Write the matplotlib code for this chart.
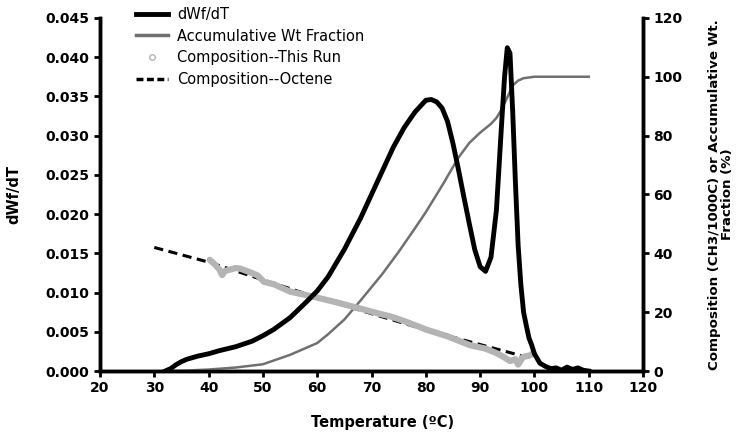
import matplotlib
matplotlib.use('Agg')
import matplotlib.pyplot as plt
from matplotlib.lines import Line2D

plt.rcParams['font.family'] = ['DejaVu Sans']

# dWf/dT curve
temp_dw = [32, 33, 34, 35, 36, 38, 40, 42, 45, 48, 50, 52, 55, 58, 60, 62, 65, 68, 70,
           72, 74, 76, 78, 80, 81, 82, 83, 84, 85, 86, 87, 88, 89, 90, 91, 92, 93, 94,
           94.5, 95, 95.5, 96, 96.5, 97, 97.5, 98, 98.5, 99, 99.5, 100, 101, 102, 103,
           104, 105, 106, 107, 108, 109, 110]
dwdt = [0, 0.0003, 0.0008, 0.0012, 0.0015, 0.0019, 0.0022, 0.0026, 0.0031, 0.0038,
        0.0045, 0.0053, 0.0068, 0.0088, 0.0102, 0.0120, 0.0155, 0.0195, 0.0225, 0.0255,
        0.0285, 0.0310, 0.0330, 0.0345, 0.0346, 0.0343, 0.0335, 0.0318, 0.0290, 0.0257,
        0.0222, 0.0188, 0.0155, 0.0133, 0.0127, 0.0145, 0.0205, 0.0320, 0.0375, 0.0412,
        0.0405, 0.0330, 0.0240, 0.0160, 0.0110, 0.0075, 0.0058, 0.0042, 0.0033, 0.0022,
        0.0010, 0.0006, 0.0003, 0.0004, 0.0001, 0.0005, 0.0002, 0.0004, 0.0001, 0]

# accumulative weight fraction (%)
temp_acc = [33, 35, 40, 45, 50, 55, 60, 62, 65, 68, 70, 72, 75, 78, 80, 83, 86, 88,
            90, 92, 93, 94, 95, 96, 97, 98, 100, 110]
acc_wt = [0, 0.1, 0.5, 1.2, 2.3, 5.5, 9.5, 12.5, 17.5, 24, 28.5, 33, 40.5, 48.5, 54,
          63, 72.5, 77.5, 81, 84, 86, 89, 93, 97, 98.7, 99.5, 100, 100]

# composition, this run
temp_run = [40.2, 41, 42, 42.5, 43, 44, 45, 45.8, 47, 47.6, 49, 50.2, 52, 55, 58, 60.3,
            63, 65.3, 68, 71.6, 73.4, 76, 80.2, 84, 88.1, 91, 93, 94.5, 95.5, 96.5, 97,
            97.9, 99, 99.8]
comp_run = [37.8, 36.5, 34.5, 32.6, 34, 34.5, 35, 34.8, 34, 33.6, 32.5, 30.3, 29.5, 27,
            25.8, 24.8, 23.6, 22.5, 21.2, 19.4, 18.6, 17, 14, 11.8, 8.8, 7.6, 6.1, 4.6,
            3.4, 4, 2.2, 4.8, 5.2, 6]

# composition, octene
temp_oct = [30, 35, 40, 45, 50, 60, 70, 80, 90, 98]
comp_oct = [42, 39.5, 37, 34, 31, 25, 19.5, 14, 9, 5]

fig = plt.figure(figsize=(7.46, 4.36), dpi=100)
ax = fig.add_axes([0.134, 0.149, 0.728, 0.810])
ax2 = ax.twinx()

ax.plot(temp_dw, dwdt, color='black', lw=3.5, zorder=3)
ax2.plot(temp_acc, acc_wt, color='#707070', lw=1.8, zorder=3)
ax2.plot(temp_oct, comp_oct, color='black', lw=2.2, ls=(0, (3, 1.8)), zorder=2)
ax2.plot(temp_run, comp_run, color='#b4b4b4', lw=4.5, zorder=4,
         solid_joinstyle='round', solid_capstyle='round')

ax.set_zorder(ax2.get_zorder() + 1)
ax.patch.set_visible(False)

ax.set_xlim(20, 120)
ax.set_ylim(0, 0.045)
ax2.set_ylim(0, 120)
ax.set_xticks(range(20, 121, 10))
ax.set_yticks([i * 0.005 for i in range(10)])
ax.set_yticklabels(['%.3f' % (i * 0.005) for i in range(10)])
ax2.set_yticks(range(0, 121, 20))

for a in (ax, ax2):
    for s in a.spines.values():
        s.set_linewidth(2.5)
    a.spines['top'].set_visible(False)
    a.tick_params(width=2, length=4, labelsize=10)
    for lab in a.get_xticklabels() + a.get_yticklabels():
        lab.set_fontweight('bold')

ax.set_xlabel('Temperature (ºC)', fontsize=10.5, fontweight='bold')
ax.xaxis.set_label_coords(0.52, -0.125)
ax.set_ylabel('dWf/dT', fontsize=10.5, fontweight='bold')
ax.yaxis.set_label_coords(-0.145, 0.5)
ax2.set_ylabel('Composition (CH3/1000C) or Accumulative Wt.\nFraction (%)',
               fontsize=9.6, fontweight='bold', linespacing=1.0, ha='center')
ax2.yaxis.set_label_coords(1.12, 0.5)

handles = [Line2D([], [], color='black', lw=3.5),
           Line2D([], [], color='#707070', lw=2.5),
           Line2D([], [], ls='none', marker='o', ms=4, mfc='white', mec='#b4b4b4'),
           Line2D([], [], color='black', lw=2.5, ls=(0, (2, 1)))]
labels = ['dWf/dT', 'Accumulative Wt Fraction', 'Composition--This Run',
          'Composition--Octene']
fig.legend(handles, labels, loc='upper left', bbox_to_anchor=(0.165, 1.014),
           frameon=False, fontsize=10.5, handlelength=2.2, handletextpad=0.6,
           labelspacing=0.45)

fig.savefig('out.png', dpi=100)
